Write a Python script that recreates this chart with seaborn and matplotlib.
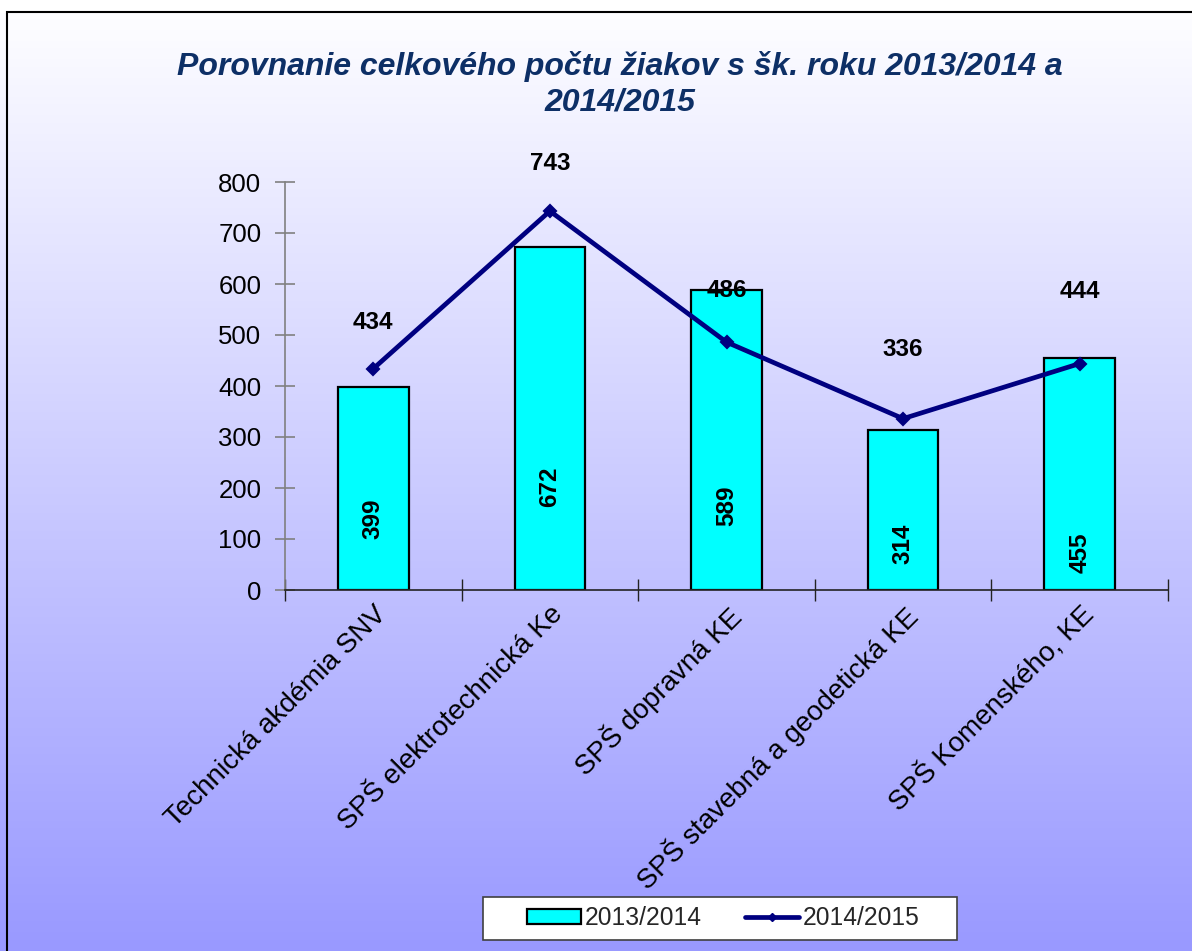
import numpy as np
import pandas as pd
import matplotlib
matplotlib.use("Agg")
import matplotlib.pyplot as plt
from matplotlib.patches import Rectangle, Patch
from matplotlib.lines import Line2D
import seaborn as sns

# ---- data ----
schools = ["Technická akdémia SNV", "SPŠ elektrotechnická Ke", "SPŠ dopravná KE",
           "SPŠ stavebná a geodetická KE", "SPŠ Komenského, KE"]
students_2013 = [399, 672, 589, 314, 455]
students_2015 = [434, 743, 486, 336, 444]
series_labels = ["2013/2014", "2014/2015"]
title_text = "Porovnanie celkového počtu žiakov s šk. roku 2013/2014 a\n2014/2015"
yticks = [0, 100, 200, 300, 400, 500, 600, 700, 800]

df = pd.DataFrame({"school": schools, "y13": students_2013, "y15": students_2015})

sns.set_theme(style="white")
plt.rcParams["font.family"] = ["Liberation Sans", "DejaVu Sans"]

W, H = 1192, 951
fig = plt.figure(figsize=(W / 100, H / 100), dpi=100)

# gradient background
bg = fig.add_axes([0, 0, 1, 1], zorder=-10)
grad = np.linspace(0, 1, 256)[:, None]
top = np.array([1.0, 1.0, 1.0])
bot = np.array([0x99, 0x99, 0xFF]) / 255
img = top[None, None, :] * (1 - grad[..., None]) + bot[None, None, :] * grad[..., None]
img = np.repeat(img, 2, axis=1)
bg.imshow(img, aspect="auto", extent=[0, 1, 0, 1], origin="upper")
bg.set_xlim(0, 1); bg.set_ylim(0, 1)
bg.axis("off")
bg.add_patch(Rectangle((0, 1 - 12 / H), 1, 12 / H, color="white", zorder=2))
bg.add_patch(Rectangle((7 / W, -0.01), 1.0, 1 - 12 / H + 0.01, fill=False,
                       edgecolor="black", linewidth=1.5, zorder=3))
# legend box
bg.add_patch(Rectangle((483 / W, 1 - 940 / H), (957 - 483) / W, (940 - 897) / H,
                       facecolor="white", edgecolor="#404040", linewidth=1.2, zorder=4))

ax = fig.add_axes([285 / W, 1 - 590 / H, (1168 - 285) / W, (590 - 182) / H])
ax.patch.set_alpha(0)

sns.barplot(data=df, x="school", y="y13", ax=ax, color="#00FFFF", width=0.4,
            edgecolor="black", linewidth=1.6, saturation=1, zorder=2)
sns.pointplot(data=df, x="school", y="y15", ax=ax, color="#000080", markers="D",
              markersize=5.5, linewidth=3.4, zorder=3)

ax.set_xlim(-0.5, 4.5)
ax.set_ylim(0, 800)
ax.set_yticks(yticks)
ax.set_xlabel(""); ax.set_ylabel("")
for s in ["top", "right"]:
    ax.spines[s].set_visible(False)
ax.spines["left"].set_color("#808080")
ax.spines["left"].set_linewidth(1.2)
ax.spines["bottom"].set_color("#222222")
ax.spines["bottom"].set_linewidth(1.2)
ax.tick_params(axis="y", direction="inout", length=14, width=1.2, color="#808080",
               labelsize=18.5, labelcolor="black", pad=10, left=True)
ax.set_xticks(np.arange(-0.5, 4.6, 1), minor=True)
ax.tick_params(axis="x", which="minor", direction="inout", length=16, width=1, color="#222222", bottom=True)
ax.tick_params(axis="x", which="major", length=0, labelsize=20, labelcolor="black", pad=8)
ax.set_xticks(range(len(schools)))
ax.set_xticklabels(schools, rotation=45, ha="right", va="top", rotation_mode="anchor")

# labels for line points (offsets in pixels above)
line_offsets = [46, 48, 52, 69, 72]
for i, v in enumerate(students_2015):
    ax.annotate(str(v), (i, v), xytext=(0, line_offsets[i] * 0.72), textcoords="offset points",
                ha="center", va="center", fontsize=17.5, fontweight="bold", color="black")

bar_label_frac = [0.35, 0.30, 0.28, 0.29, 0.16]
for i, v in enumerate(students_2013):
    ax.text(i, v * bar_label_frac[i], str(v), rotation=90, ha="center", va="center",
            fontsize=17.5, fontweight="bold", color="black")

fig.text(620 / W, 1 - 84 / H, title_text, ha="center", va="center", fontsize=23,
         fontweight="bold", fontstyle="italic", color="#0D2F66", linespacing=1.25)

handles = [Patch(facecolor="#00FFFF", edgecolor="black", linewidth=1.6),
           Line2D([0], [0], color="#000080", linewidth=3.4, marker="D", markersize=4)]
leg = fig.legend(handles, series_labels, loc="center", bbox_to_anchor=(723 / W, 1 - 918 / H),
                 ncol=2, frameon=False, fontsize=17.7, handlelength=2.2, handleheight=0.55,
                 columnspacing=1.75, handletextpad=0.15, borderpad=0.2)
leg.set_zorder(20)

fig.savefig("out.png", dpi=100)
